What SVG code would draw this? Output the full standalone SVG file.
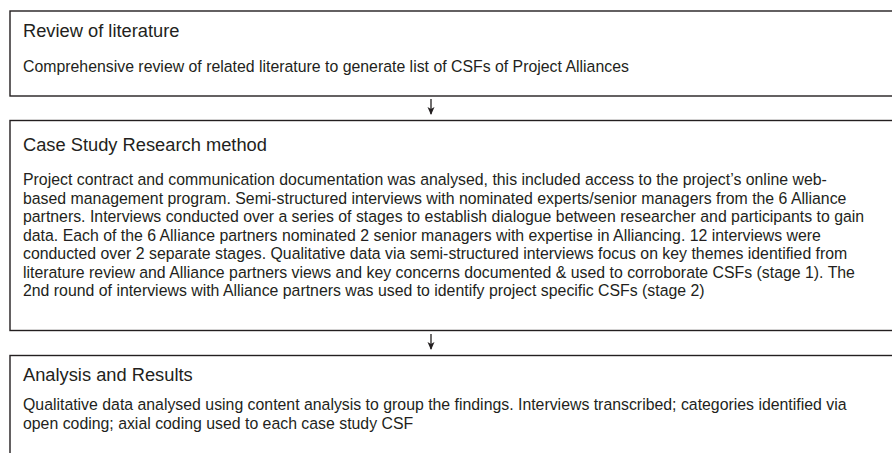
<svg xmlns="http://www.w3.org/2000/svg" width="892" height="453" viewBox="0 0 892 453">
<style>
.box{fill:#fff;stroke:#231f20;stroke-width:1.4}
.t{font-family:"Liberation Sans",Arial,sans-serif;fill:#231f20}
.h{font-size:18.3px}
.b{font-size:15.85px}
.c{stroke:#231f20;stroke-width:1.3;fill:none}
</style>
<defs>
<marker id="ah" viewBox="0 0 8 8" refX="7" refY="4" markerWidth="8" markerHeight="8" markerUnits="userSpaceOnUse" orient="auto">
<path d="M0,0.5 L8,4 L0,7.5 L2,4 Z" fill="#231f20"/>
</marker>
</defs>
<rect width="892" height="453" fill="#fff"/>
<g id="node-review">
<rect class="box" x="10" y="11" width="900" height="85"/>
<text class="t h" x="23" y="36.5">Review of literature</text>
<text class="t b" x="23" y="72">Comprehensive review of related literature to generate list of CSFs of Project Alliances</text>
</g>
<g id="node-case">
<rect class="box" x="10" y="120.5" width="900" height="210"/>
<text class="t h" x="23" y="150.5">Case Study Research method</text>
<text class="t b" x="23" y="185">Project contract and communication documentation was analysed, this included access to the project’s online web-</text>
<text class="t b" x="23" y="203.5">based management program. Semi-structured interviews with nominated experts/senior managers from the 6 Alliance</text>
<text class="t b" x="23" y="222">partners. Interviews conducted over a series of stages to establish dialogue between researcher and participants to gain</text>
<text class="t b" x="23" y="240.5">data. Each of the 6 Alliance partners nominated 2 senior managers with expertise in Alliancing. 12 interviews were</text>
<text class="t b" x="23" y="259">conducted over 2 separate stages. Qualitative data via semi-structured interviews focus on key themes identified from</text>
<text class="t b" x="23" y="277.5">literature review and Alliance partners views and key concerns documented &amp; used to corroborate CSFs (stage 1). The</text>
<text class="t b" x="23" y="296">2nd round of interviews with Alliance partners was used to identify project specific CSFs (stage 2)</text>
</g>
<g id="node-analysis">
<rect class="box" x="10" y="355.5" width="900" height="120"/>
<text class="t h" x="23" y="381">Analysis and Results</text>
<text class="t b" x="23" y="410">Qualitative data analysed using content analysis to group the findings. Interviews transcribed; categories identified via</text>
<text class="t b" x="23" y="428.5">open coding; axial coding used to each case study CSF</text>
</g>
<g id="connectors">
<line class="c" x1="431" y1="99" x2="431" y2="114" marker-end="url(#ah)"/>
<line class="c" x1="431" y1="334" x2="431" y2="349" marker-end="url(#ah)"/>
</g>
</svg>
